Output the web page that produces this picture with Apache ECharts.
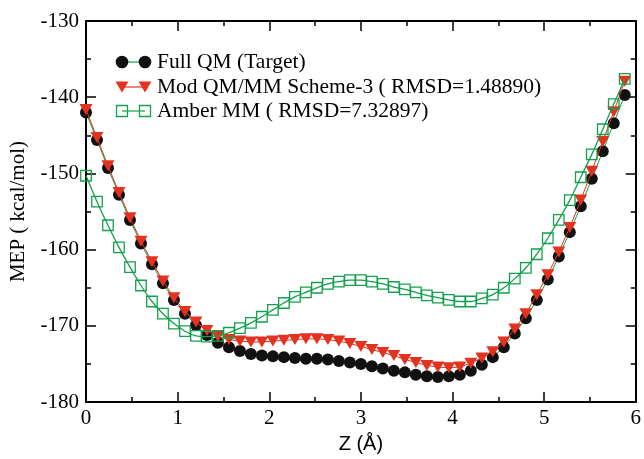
<!DOCTYPE html>
<html>
<head>
<meta charset="utf-8">
<script src="https://cdn.jsdelivr.net/npm/echarts@6/dist/echarts.min.js"></script>
<style>
  html, body { margin: 0; padding: 0; background: #fff; }
  #chart { width: 644px; height: 459px; }
</style>
</head>
<body>
<div id="chart"></div>
<script>
// Z positions (Å)
const zValues = [
  0.00, 0.12, 0.24, 0.36, 0.48, 0.60, 0.72, 0.84, 0.96, 1.08,
  1.20, 1.32, 1.44, 1.56, 1.68, 1.80, 1.92, 2.04, 2.16, 2.28,
  2.40, 2.52, 2.64, 2.76, 2.88, 3.00, 3.12, 3.24, 3.36, 3.48,
  3.60, 3.72, 3.84, 3.96, 4.08, 4.20, 4.32, 4.44, 4.56, 4.68,
  4.80, 4.92, 5.04, 5.16, 5.28, 5.40, 5.52, 5.64, 5.76, 5.88
];

// MEP (kcal/mol), full QM reference
const fullQM = [
  -142.0, -145.6, -149.3, -152.8, -156.1, -159.2, -161.9, -164.4, -166.6, -168.4,
  -169.9, -171.2, -172.2, -172.8, -173.3, -173.7, -173.9, -174.0, -174.1, -174.2,
  -174.3, -174.3, -174.4, -174.6, -174.8, -175.0, -175.3, -175.6, -175.9, -176.1,
  -176.4, -176.6, -176.7, -176.6, -176.4, -175.9, -175.1, -174.1, -172.8, -171.0,
  -169.0, -166.6, -163.9, -160.9, -157.7, -154.3, -150.7, -147.1, -143.4, -139.7
];

// MEP (kcal/mol), modified QM/MM scheme 3
const modQMMM = [
  -141.6, -145.3, -149.0, -152.5, -155.8, -158.9, -161.6, -164.1, -166.3, -168.1,
  -169.5, -170.6, -171.4, -171.8, -172.0, -172.1, -172.1, -172.0, -171.9, -171.8,
  -171.7, -171.7, -171.8, -172.0, -172.3, -172.7, -173.1, -173.5, -173.9, -174.4,
  -174.8, -175.2, -175.4, -175.5, -175.4, -174.9, -174.2, -173.4, -172.1, -170.4,
  -168.4, -165.9, -163.3, -160.3, -157.1, -153.5, -149.7, -145.8, -141.9, -137.9
];

// MEP (kcal/mol), Amber force field
const amberMM = [
  -150.3, -153.7, -156.8, -159.7, -162.3, -164.7, -166.8, -168.4, -169.7, -170.7,
  -171.3, -171.4, -171.3, -170.9, -170.3, -169.6, -168.8, -167.9, -167.0, -166.2,
  -165.6, -165.0, -164.5, -164.2, -164.0, -164.0, -164.2, -164.5, -164.9, -165.2,
  -165.6, -166.0, -166.3, -166.6, -166.8, -166.8, -166.4, -165.9, -165.0, -163.8,
  -162.4, -160.6, -158.5, -156.1, -153.5, -150.5, -147.5, -144.2, -140.9, -137.6
];

const seriesNames = [
  'Full QM (Target)',
  'Mod QM/MM Scheme-3 ( RMSD=1.48890)',
  'Amber MM ( RMSD=7.32897)'
];

const xTicks = { min: 0, max: 6, interval: 1 };
const yTicks = { min: -180, max: -130, interval: 10 };

const BLACK = '#111111';
const RED = '#e43220';
const GREEN = '#13a04c';
const SERIF = '"Liberation Serif", "Times New Roman", serif';
const SANS = '"Liberation Sans", Arial, sans-serif';

const pairs = (ys) => zValues.map((z, i) => [z, ys[i]]);

const chart = echarts.init(document.getElementById('chart'), null, { renderer: 'canvas' });

const frameAxisCommon = {
  axisLine: { show: true, onZero: false, lineStyle: { color: '#000', width: 2 } },
  axisTick: { show: true, inside: true, length: 10, lineStyle: { color: '#000', width: 1.5 } },
  minorTick: { show: true, splitNumber: 2, length: 5, lineStyle: { color: '#000', width: 1.5 } },
  splitLine: { show: false },
  minorSplitLine: { show: false }
};

// Legend: two markers joined by a line, followed by the label
const legendRows = [62, 87, 111];
const legendX1 = 122, legendX2 = 145, legendTextX = 157;
function legendMarker(kind, cx, cy) {
  if (kind === 0) {
    return { type: 'circle', shape: { cx: cx, cy: cy, r: 6.3 }, style: { fill: BLACK }, z: 102 };
  }
  if (kind === 1) {
    return { type: 'polygon', shape: { points: [[cx - 6.5, cy - 5.5], [cx + 6.5, cy - 5.5], [cx, cy + 5.5]] },
      style: { fill: RED }, z: 102 };
  }
  return { type: 'rect', shape: { x: cx - 5.5, y: cy - 5.5, width: 11, height: 11 },
    style: { fill: 'transparent', stroke: GREEN, lineWidth: 1.3 }, z: 102 };
}
const legendLineColors = [GREEN, RED, GREEN];
const legendGraphics = [];
seriesNames.forEach((name, k) => {
  const cy = legendRows[k];
  legendGraphics.push({ type: 'line', shape: { x1: legendX1, y1: cy, x2: legendX2, y2: cy },
    style: { stroke: legendLineColors[k], lineWidth: 1.2 }, z: 101 });
  legendGraphics.push(legendMarker(k, legendX1, cy));
  legendGraphics.push(legendMarker(k, legendX2, cy));
  legendGraphics.push({ type: 'text', x: legendTextX, y: cy,
    style: { text: name, fill: '#000', font: '21.5px ' + SERIF, textVerticalAlign: 'middle', textAlign: 'left' }, z: 102 });
});

chart.setOption({
  animation: false,
  backgroundColor: '#fff',
  grid: { left: 84, right: 5, top: 21, bottom: 51, containLabel: false },
  xAxis: [
    Object.assign({
      type: 'value', position: 'bottom',
      min: xTicks.min, max: xTicks.max, interval: xTicks.interval,
      name: 'Z (Å)', nameLocation: 'middle', nameGap: 22,
      nameTextStyle: { color: '#000', fontSize: 20, fontFamily: SANS },
      axisLabel: { color: '#000', fontSize: 21, fontFamily: SERIF, margin: 6 }
    }, frameAxisCommon),
    Object.assign({
      type: 'value', position: 'top',
      min: xTicks.min, max: xTicks.max, interval: xTicks.interval,
      axisLabel: { show: false }
    }, frameAxisCommon)
  ],
  yAxis: [
    Object.assign({
      type: 'value', position: 'left',
      min: yTicks.min, max: yTicks.max, interval: yTicks.interval,
      name: 'MEP ( kcal/mol)', nameLocation: 'middle', nameGap: 57,
      nameTextStyle: { color: '#000', fontSize: 21, fontFamily: SERIF },
      axisLabel: { color: '#000', fontSize: 21, fontFamily: SERIF, margin: 7 }
    }, frameAxisCommon),
    Object.assign({
      type: 'value', position: 'right',
      min: yTicks.min, max: yTicks.max, interval: yTicks.interval,
      axisLabel: { show: false }
    }, frameAxisCommon)
  ],
  series: [
    {
      name: seriesNames[0], type: 'line', data: pairs(fullQM),
      symbol: 'circle', symbolSize: 12,
      itemStyle: { color: BLACK },
      lineStyle: { color: GREEN, width: 1 },
      z: 2
    },
    {
      name: seriesNames[1], type: 'line', data: pairs(modQMMM),
      symbol: 'triangle', symbolRotate: 180, symbolSize: [13, 11],
      itemStyle: { color: RED },
      lineStyle: { color: RED, width: 1 },
      z: 3
    },
    {
      name: seriesNames[2], type: 'line', data: pairs(amberMM),
      symbol: 'rect', symbolSize: 10.5, smooth: 0.3,
      itemStyle: { color: 'rgba(255,255,255,0)', borderColor: GREEN, borderWidth: 1.3 },
      lineStyle: { color: GREEN, width: 1.3 },
      z: 4
    }
  ],
  graphic: legendGraphics
});
</script>
</body>
</html>
